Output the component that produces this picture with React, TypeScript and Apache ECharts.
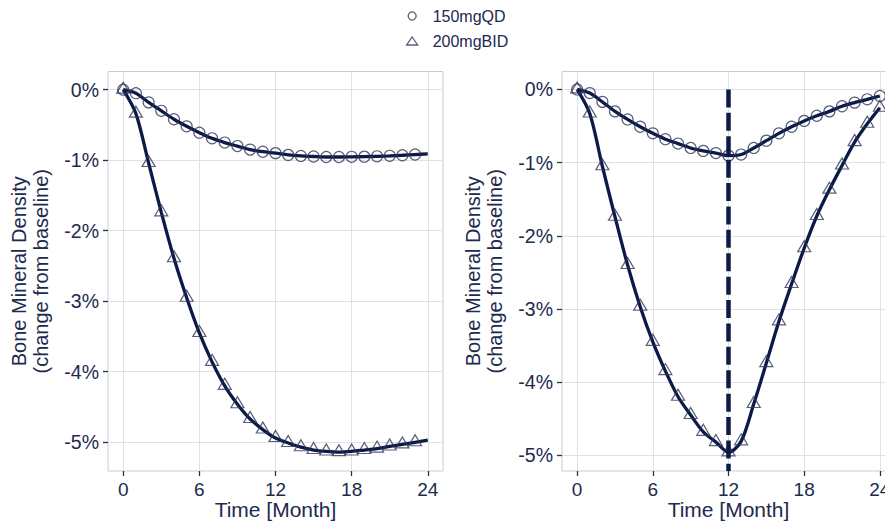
import React, { useEffect, useRef } from "react";
import * as echarts from "echarts";

// ---- data ----
const months = [0, 1, 2, 3, 4, 5, 6, 7, 8, 9, 10, 11, 12, 13, 14, 15, 16, 17, 18, 19, 20, 21, 22, 23, 24];
const xTicks = [0, 6, 12, 18, 24];
const yTicks = [0, -1, -2, -3, -4, -5];
const seriesNames = ["150mgQD", "200mgBID"];

// Left panel: continuous treatment
const qdContinuous = [0, -0.05, -0.18, -0.3, -0.42, -0.52, -0.61, -0.69, -0.75, -0.8, -0.85, -0.88, -0.9, -0.925, -0.94, -0.948, -0.955, -0.955, -0.952, -0.95, -0.945, -0.938, -0.93, -0.92, -0.91];
const bidContinuous = [0, -0.34, -1.04, -1.74, -2.39, -2.95, -3.45, -3.86, -4.2, -4.46, -4.67, -4.82, -4.94, -5.01, -5.07, -5.11, -5.13, -5.14, -5.13, -5.11, -5.09, -5.06, -5.03, -5.0, -4.97];

// Right panel: treatment stopped at month 12
const qdInterrupted = [0, -0.05, -0.17, -0.3, -0.41, -0.51, -0.6, -0.68, -0.74, -0.8, -0.84, -0.87, -0.905, -0.89, -0.8, -0.7, -0.6, -0.51, -0.43, -0.36, -0.3, -0.23, -0.18, -0.135, -0.09];
const bidInterrupted = [0, -0.33, -1.05, -1.74, -2.4, -2.97, -3.45, -3.85, -4.2, -4.45, -4.68, -4.82, -4.96, -4.81, -4.3, -3.74, -3.17, -2.66, -2.17, -1.73, -1.37, -1.04, -0.72, -0.47, -0.25];

const stopMonth = 12;
const leftLastMarkerMonth = 23;

// axis ranges
const xMin = -1.2;
const xMax = 25.2;
const leftYMin = -5.4075;
const leftYMax = 0.2575;
const rightYMin = -5.215;
const rightYMax = 0.245;

const NAVY = "#0c1a48";
const TEXT = "#1c2a4d";
const MARKER = "#2e3656";
const GRID = "#dfe0e8";
const BORDER = "#c9ccd6";
const FONT = "'Liberation Sans', Arial, Helvetica, sans-serif";

function pairs(vals: number[], maxMonth = 24) {
  return months.filter((m) => m <= maxMonth).map((m) => [m, vals[m]]);
}

function makeX(gridIndex: number) {
  return {
    type: "value",
    gridIndex,
    min: xMin,
    max: xMax,
    axisLine: { show: false, onZero: false },
    axisTick: { show: true, customValues: xTicks, length: 5, lineStyle: { color: "#333", width: 1.3 } },
    axisLabel: { customValues: xTicks, margin: 9, fontSize: 19, color: TEXT, fontFamily: FONT },
    splitLine: { show: true, lineStyle: { color: GRID, width: 1 } },
    name: "Time [Month]",
    nameLocation: "middle",
    nameGap: 28,
    nameMoveOverlap: false,
    nameTextStyle: { fontSize: 21, color: TEXT, fontFamily: FONT },
  };
}

function makeY(gridIndex: number, min: number, max: number) {
  return {
    type: "value",
    gridIndex,
    min,
    max,
    axisLine: { show: false, onZero: false },
    axisTick: { show: true, customValues: yTicks, length: 5, lineStyle: { color: "#333", width: 1.3 } },
    axisLabel: {
      customValues: yTicks,
      margin: 9,
      fontSize: 19.5,
      color: TEXT,
      fontFamily: FONT,
      formatter: (v: number) => `${v}%`,
    },
    splitLine: { show: true, lineStyle: { color: GRID, width: 1 } },
    name: "Bone Mineral Density\n(change from baseline)",
    nameLocation: "middle",
    nameGap: 56,
    nameMoveOverlap: false,
    nameTextStyle: { fontSize: 20, lineHeight: 22, color: TEXT, fontFamily: FONT },
  };
}

function lineSeries(idx: number, vals: number[], extra: any = {}) {
  return {
    type: "line",
    xAxisIndex: idx,
    yAxisIndex: idx,
    data: pairs(vals),
    symbol: "none",
    showSymbol: false,
    smooth: 0.3,
    silent: true,
    lineStyle: { color: NAVY, width: 3.3 },
    z: 2,
    ...extra,
  };
}

function markerSeries(idx: number, name: string, vals: number[], maxMonth: number) {
  const isTri = name === seriesNames[1];
  return {
    type: "scatter",
    name,
    xAxisIndex: idx,
    yAxisIndex: idx,
    data: pairs(vals, maxMonth),
    symbol: isTri ? "triangle" : "circle",
    symbolSize: isTri ? [13, 11] : 11,
    symbolOffset: isTri ? [0, -2] : [0, 0],
    silent: true,
    itemStyle: { color: "rgba(0,0,0,0)", borderColor: MARKER, borderWidth: 1.2 },
    z: 3,
  };
}

export default function App() {
  const ref = useRef<HTMLDivElement>(null);

  useEffect(() => {
    if (!ref.current) return;
    const chart = echarts.init(ref.current, undefined, { renderer: "svg" });
    const option: any = {
      animation: false,
      backgroundColor: "#ffffff",
      textStyle: { fontFamily: FONT },
      legend: {
        data: seriesNames.map((n, i) => ({ name: n, icon: i === 1 ? "triangle" : "circle" })),
        orient: "vertical",
        left: 401,
        top: 3,
        padding: 5,
        itemWidth: 11,
        itemHeight: 8,
        itemGap: 9,
        selectedMode: false,
        textStyle: { fontSize: 16, lineHeight: 16, color: TEXT, fontFamily: FONT, padding: [0, 0, 0, 10] },
        itemStyle: { color: "rgba(0,0,0,0)", borderColor: MARKER, borderWidth: 1.3 },
      },
      grid: [
        {
          left: 108, top: 71.5, width: 335, height: 399.5,
          show: true, borderColor: BORDER, borderWidth: 1,
          containLabel: false, outerBoundsMode: "none",
        },
        {
          left: 562, top: 71.5, width: 333, height: 399.5,
          show: true, borderColor: BORDER, borderWidth: 1,
          containLabel: false, outerBoundsMode: "none",
        },
      ],
      xAxis: [makeX(0), makeX(1)],
      yAxis: [makeY(0, leftYMin, leftYMax), makeY(1, rightYMin, rightYMax)],
      series: [
        lineSeries(0, qdContinuous),
        lineSeries(0, bidContinuous),
        markerSeries(0, seriesNames[0], qdContinuous, leftLastMarkerMonth),
        markerSeries(0, seriesNames[1], bidContinuous, leftLastMarkerMonth),
        lineSeries(1, qdInterrupted),
        lineSeries(1, bidInterrupted, {
          markLine: {
            silent: true,
            symbol: ["none", "none"],
            label: { show: false },
            lineStyle: { type: [18, 5.4], width: 4.5, color: NAVY },
            data: [[{ coord: [stopMonth, 0] }, { coord: [stopMonth, rightYMin] }]],
          },
        }),
        markerSeries(1, seriesNames[0], qdInterrupted, 24),
        markerSeries(1, seriesNames[1], bidInterrupted, 24),
      ],
    };
    chart.setOption(option);
    return () => chart.dispose();
  }, []);

  return (
    <div style={{ position: "absolute", left: 0, top: 0, width: 885, height: 523, overflow: "hidden", background: "#fff" }}>
      <div ref={ref} style={{ position: "absolute", left: 0, top: 0, width: 910, height: 523 }} />
    </div>
  );
}
